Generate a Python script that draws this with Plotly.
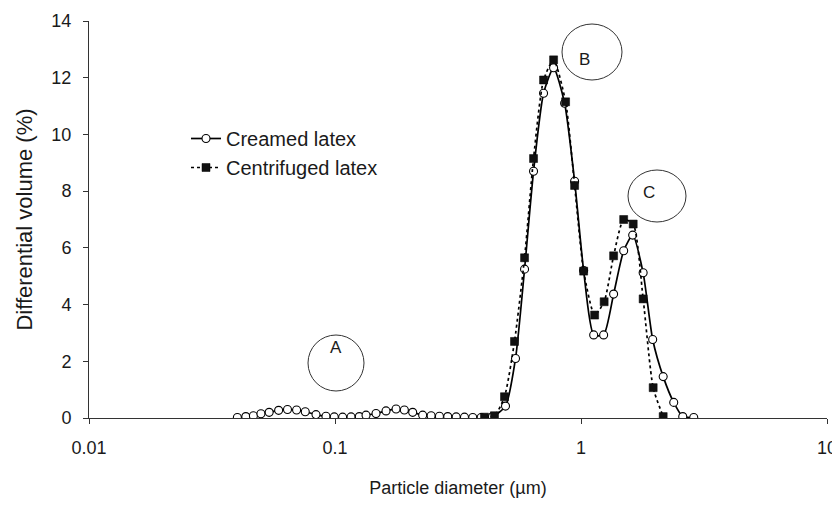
import plotly.graph_objects as go

# Creamed latex (open circles)
creamed_d = [0.0401, 0.0434, 0.0466, 0.0500, 0.0540, 0.0590, 0.0641, 0.0698, 0.0757, 0.0837,
             0.0919, 0.0993, 0.1074, 0.1162, 0.1256, 0.1337, 0.1468, 0.1612, 0.1771, 0.1914,
             0.2069, 0.2272, 0.2459, 0.2658, 0.2873, 0.3109, 0.3360, 0.3631, 0.3928, 0.4367,
             0.4933, 0.5418, 0.5896, 0.6413, 0.7043, 0.7737, 0.8577, 0.9419, 1.025, 1.126,
             1.236, 1.357, 1.491, 1.622, 1.789, 1.956, 2.158, 2.382, 2.592, 2.873]
creamed_v = [0.02, 0.05, 0.08, 0.15, 0.20, 0.27, 0.30, 0.28, 0.22, 0.12,
             0.06, 0.04, 0.03, 0.04, 0.05, 0.10, 0.16, 0.25, 0.32, 0.28,
             0.20, 0.10, 0.08, 0.06, 0.05, 0.04, 0.03, 0.02, 0.02, 0.05,
             0.42, 2.10, 5.25, 8.70, 11.45, 12.35, 11.10, 8.35, 5.20, 2.93,
             2.93, 4.37, 5.90, 6.45, 5.12, 2.77, 1.46, 0.55, 0.05, 0.02]

# Centrifuged latex (filled squares)
centr_d = [0.4052, 0.4450, 0.4887, 0.5367, 0.5896, 0.6413, 0.7043, 0.7737, 0.8657, 0.9419,
           1.025, 1.136, 1.242, 1.357, 1.491, 1.630, 1.789, 1.965, 2.158]
centr_v = [0.03, 0.08, 0.75, 2.70, 5.65, 9.15, 11.92, 12.63, 11.15, 8.20,
           5.18, 3.63, 4.10, 5.72, 7.00, 6.84, 4.20, 1.07, 0.05]

x_ticks = [0.01, 0.1, 1, 10]
x_tick_labels = ["0.01", "0.1", "1", "10"]
y_ticks = [0, 2, 4, 6, 8, 10, 12, 14]

FONT = "Liberation Sans, Arial, sans-serif"
TXT = "#1a1a1a"

fig = go.Figure()
fig.add_trace(go.Scatter(
    x=creamed_d, y=creamed_v, name="Creamed latex", mode="lines+markers",
    line=dict(color="black", width=1.7, shape="spline", smoothing=0.6),
    marker=dict(symbol="circle", size=8, color="white", line=dict(color="black", width=1.1)),
))
fig.add_trace(go.Scatter(
    x=centr_d, y=centr_v, name="Centrifuged latex", mode="lines+markers",
    line=dict(color="black", width=1.7, dash="dot", shape="spline", smoothing=0.6),
    marker=dict(symbol="square", size=8, color="#111111", line=dict(color="black", width=0.5)),
))

# The page body has an 8px margin, so the figure is drawn 8px smaller and
# all target window positions (below) are shifted by OFF.
OFF = 8
W, H = 840 - OFF, 506 - OFF
L, T = 89 - OFF, 21 - OFF
R = W - (827 - OFF)
B = H - (418 - OFF)
pw, ph = W - L - R, H - T - B

def px(x):
    return (x - OFF - L) / pw

def py(y):
    return (H - B - (y - OFF)) / ph

shapes = []
annotations = []
for label, (x0, x1, y0, y1) in {"A": (308, 364, 335, 391), "B": (562, 622, 24, 80),
                                 "C": (628, 686, 170, 222)}.items():
    shapes.append(dict(type="circle", xref="paper", yref="paper",
                       x0=px(x0), x1=px(x1), y0=py(y1), y1=py(y0),
                       line=dict(color="#333333", width=1)))
    annotations.append(dict(x=px((x0 + x1) / 2), y=py((y0 + y1) / 2 - 4), xref="paper", yref="paper",
                            text=label, showarrow=False, font=dict(size=17, color=TXT, family=FONT)))

fig.update_layout(
    width=W, height=H,
    margin=dict(l=L, r=R, t=T, b=B, autoexpand=False),
    paper_bgcolor="white", plot_bgcolor="white",
    font=dict(family=FONT, size=18, color=TXT),
    shapes=shapes, annotations=annotations,
    showlegend=True,
    legend=dict(x=px(186), y=py(119), xanchor="left", yanchor="top",
                bgcolor="rgba(0,0,0,0)", font=dict(size=20, color=TXT, family=FONT),
                itemwidth=30, tracegroupgap=0),
    xaxis=dict(type="log", range=[-2, 1], tickvals=x_ticks, ticktext=x_tick_labels,
               automargin=False,
               showgrid=False, zeroline=False, showline=True, linecolor="#333333", linewidth=1,
               ticks="outside", ticklen=5, tickcolor="#333333",
               tickfont=dict(size=18, color=TXT), ticklabelstandoff=8,
               title=dict(text="Particle diameter (µm)", font=dict(size=18, color=TXT), standoff=24)),
    yaxis=dict(range=[0, 14], tickvals=y_ticks, automargin=False,
               showgrid=False, zeroline=False, showline=True, linecolor="#333333", linewidth=1,
               ticks="outside", ticklen=5, tickcolor="#333333",
               tickfont=dict(size=18, color=TXT), ticklabelstandoff=8,
               title=dict(text="Differential volume (%)", font=dict(size=22, color=TXT), standoff=12)),
)

fig.write_html("out.html")
